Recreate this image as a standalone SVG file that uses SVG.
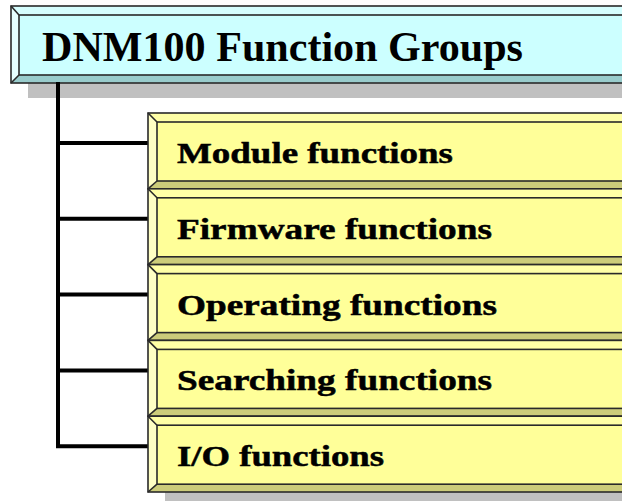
<svg xmlns="http://www.w3.org/2000/svg" xmlns:xlink="http://www.w3.org/1999/xlink" width="622" height="501" viewBox="0 0 622 501">
<style>
.hdr{font-family:"Liberation Serif","Times New Roman",serif;font-weight:bold;font-size:42px;fill:#000}
.lbl{font-family:"Liberation Serif","Times New Roman",serif;font-weight:bold;font-size:30px;fill:#000;stroke:#000;stroke-width:0.5}
.edge{fill:none;stroke:#2a2a2a;stroke-width:1.6}
.conn{fill:none;stroke:#000;stroke-width:4;stroke-linejoin:miter;stroke-linecap:square}
.shadow{fill:#c0c0c0}
</style>
<defs>
<g id="nodebox">
<rect x="0" y="0" width="520" height="75.8" fill="#ffff99"/>
<polygon points="0,0 520,0 511,9 9,9" fill="#ffffa6"/>
<polygon points="0,0 9,9 9,68 0,75.8" fill="#ffffc4"/>
<polygon points="0,75.8 9,68 511,68 520,75.8" fill="#cccc7a"/>
<rect x="0" y="0" width="520" height="75.8" class="edge"/>
<rect x="9" y="9" width="502" height="59" class="edge"/>
<line x1="0" y1="0" x2="9" y2="9" class="edge" stroke-width="1"/>
<line x1="0" y1="75.8" x2="9" y2="68" class="edge" stroke-width="1"/>
</g>
</defs>
<rect width="622" height="501" fill="#fff"/>

<rect class="shadow" x="28" y="83" width="600" height="15"/>
<rect class="shadow" x="165" y="492" width="500" height="9"/>

<g id="header">
<rect x="11" y="6" width="629" height="77" fill="#ccffff"/>
<polygon points="11,6 640,6 632,15 19,15" fill="#d6ffff"/>
<polygon points="11,6 19,15 19,75 11,83" fill="#e6ffff"/>
<polygon points="11,83 19,75 632,75 640,83" fill="#99cccc"/>
<rect x="11" y="6" width="629" height="77" class="edge"/>
<rect x="19" y="15" width="613" height="60" class="edge"/>
<line x1="11" y1="6" x2="19" y2="15" class="edge" stroke-width="1"/>
<line x1="11" y1="83" x2="19" y2="75" class="edge" stroke-width="1"/>
<text class="hdr" x="42" y="61" textLength="481" lengthAdjust="spacingAndGlyphs">DNM100 Function Groups</text>
</g>

<g id="connectors">
<path class="conn" d="M58,84 V446.2 H147"/>
<path class="conn" d="M58,143 H147"/>
<path class="conn" d="M58,218.8 H147"/>
<path class="conn" d="M58,294.6 H147"/>
<path class="conn" d="M58,370.4 H147"/>
</g>

<g id="n1" transform="translate(148,113)">
<use xlink:href="#nodebox"/>
<text class="lbl" x="29" y="50" textLength="276" lengthAdjust="spacingAndGlyphs">Module functions</text>
</g>
<g id="n2" transform="translate(148,188.8)">
<use xlink:href="#nodebox"/>
<text class="lbl" x="29" y="50" textLength="315" lengthAdjust="spacingAndGlyphs">Firmware functions</text>
</g>
<g id="n3" transform="translate(148,264.6)">
<use xlink:href="#nodebox"/>
<text class="lbl" x="29" y="50" textLength="320" lengthAdjust="spacingAndGlyphs">Operating functions</text>
</g>
<g id="n4" transform="translate(148,340.4)">
<use xlink:href="#nodebox"/>
<text class="lbl" x="29" y="50" textLength="315" lengthAdjust="spacingAndGlyphs">Searching functions</text>
</g>
<g id="n5" transform="translate(148,416.2)">
<use xlink:href="#nodebox"/>
<text class="lbl" x="29" y="50" textLength="207" lengthAdjust="spacingAndGlyphs">I/O functions</text>
</g>
</svg>
